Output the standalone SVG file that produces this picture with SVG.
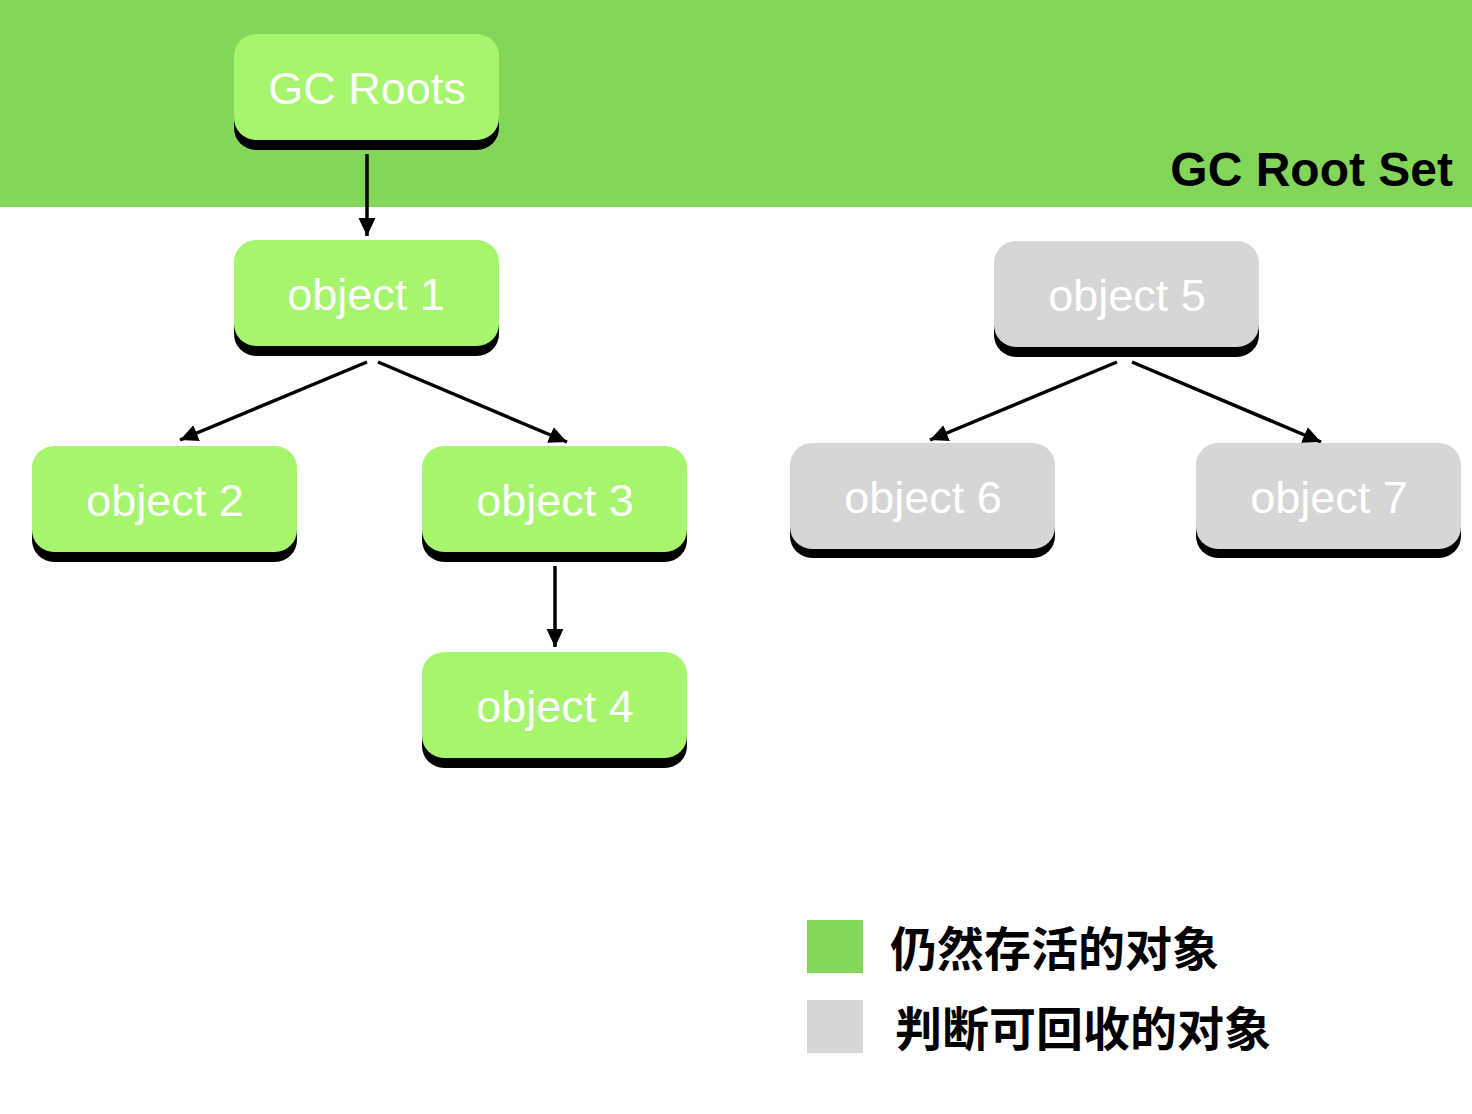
<svg xmlns="http://www.w3.org/2000/svg" width="1472" height="1114" viewBox="0 0 1472 1114">
<defs>
<style>
.sh{fill:#000}
.g{fill:#A6F56C}
.y{fill:#D6D6D6}
.t{font-family:"Liberation Sans",Arial,sans-serif;font-size:45px;fill:#fff;text-anchor:middle}
.c{stroke:#000;stroke-width:3.5;fill:none;marker-end:url(#ah)}
.lg{font-family:"Noto Sans CJK SC","Noto Sans",sans-serif;font-weight:bold;font-size:47px;fill:#000}
</style>
<marker id="ah" markerUnits="userSpaceOnUse" viewBox="-18 -9 18 18" markerWidth="18" markerHeight="18" refX="0" refY="0" orient="auto">
<path d="M-18,-8.5 L0,0 L-18,8.5 z" fill="#000"/>
</marker>
</defs>
<rect x="0" y="0" width="1472" height="207" fill="#84D65A"/>
<text x="1453" y="186" text-anchor="end" style="font-family:'Liberation Sans',Arial,sans-serif;font-weight:bold;font-size:48px;fill:#000">GC Root Set</text>
<g id="connectors">
<line class="c" x1="367" y1="154" x2="367" y2="236"/>
<line class="c" x1="367" y1="362" x2="180" y2="440"/>
<line class="c" x1="378" y1="362" x2="567" y2="442"/>
<line class="c" x1="555" y1="566" x2="555" y2="647"/>
<line class="c" x1="1117" y1="362" x2="930" y2="440"/>
<line class="c" x1="1132" y1="362" x2="1321" y2="442"/>
</g>
<g id="gcroots"><rect class="sh" x="234" y="44" width="265" height="106" rx="22"/><rect class="g" x="234" y="34" width="265" height="106" rx="22"/><text class="t" x="367" y="104">GC Roots</text></g>
<g id="object1"><rect class="sh" x="234" y="250" width="265" height="106" rx="22"/><rect class="g" x="234" y="240" width="265" height="106" rx="22"/><text class="t" x="366" y="310">object 1</text></g>
<g id="object2"><rect class="sh" x="32" y="456" width="265" height="106" rx="22"/><rect class="g" x="32" y="446" width="265" height="106" rx="22"/><text class="t" x="165" y="516">object 2</text></g>
<g id="object3"><rect class="sh" x="422" y="456" width="265" height="106" rx="22"/><rect class="g" x="422" y="446" width="265" height="106" rx="22"/><text class="t" x="555" y="516">object 3</text></g>
<g id="object4"><rect class="sh" x="422" y="662" width="265" height="106" rx="22"/><rect class="g" x="422" y="652" width="265" height="106" rx="22"/><text class="t" x="555" y="722">object 4</text></g>
<g id="object5"><rect class="sh" x="994" y="251" width="265" height="106" rx="22"/><rect class="y" x="994" y="241" width="265" height="106" rx="22"/><text class="t" x="1127" y="311">object 5</text></g>
<g id="object6"><rect class="sh" x="790" y="452" width="265" height="106" rx="22"/><rect class="y" x="790" y="443" width="265" height="106" rx="22"/><text class="t" x="923" y="513">object 6</text></g>
<g id="object7"><rect class="sh" x="1196" y="452" width="265" height="106" rx="22"/><rect class="y" x="1196" y="443" width="265" height="106" rx="22"/><text class="t" x="1329" y="513">object 7</text></g>
<g id="legend">
<rect x="807" y="920" width="56" height="53" fill="#84D65A"/>
<rect x="807" y="1000" width="56" height="53" fill="#D6D6D6"/>
<text class="lg" x="890" y="966">仍然存活的对象</text>
<text class="lg" x="895" y="1046">判断可回收的对象</text>
</g>
</svg>
